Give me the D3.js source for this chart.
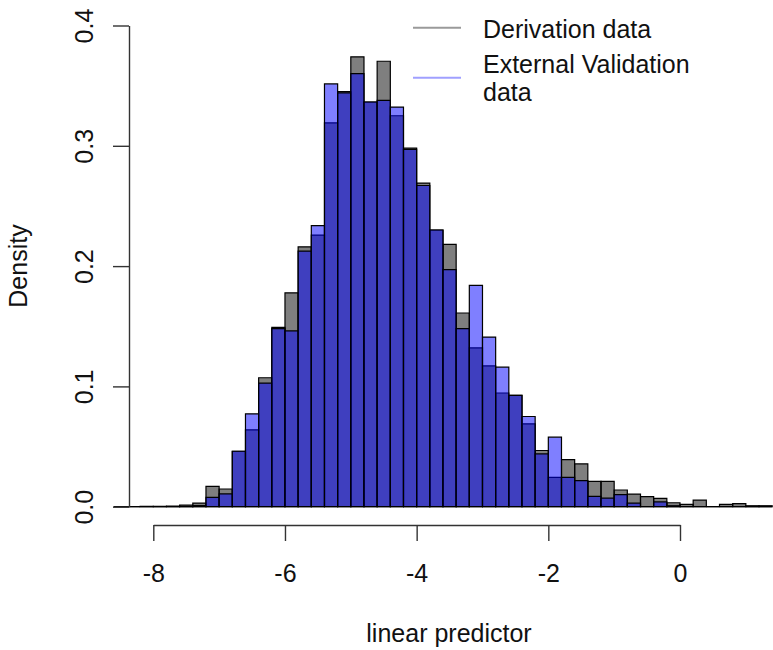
<!DOCTYPE html>
<meta charset="utf-8">
<script src="https://d3js.org/d3.v7.min.js"></script>
<style>
body { margin: 0; background: #fff; font-family: 'Liberation Sans', Arial, sans-serif; }
</style>
<svg width="773" height="650"></svg>
<script>
// histogram bin edges (width 0.2)
var binEdges = [-8.6, -8.4, -8.2, -8.0, -7.8, -7.6, -7.4, -7.2, -7.0, -6.8,
  -6.6, -6.4, -6.2, -6.0, -5.8, -5.6, -5.4, -5.2, -5.0, -4.8,
  -4.6, -4.4, -4.2, -4.0, -3.8, -3.6, -3.4, -3.2, -3.0, -2.8,
  -2.6, -2.4, -2.2, -2.0, -1.8, -1.6, -1.4, -1.2, -1.0, -0.8,
  -0.6, -0.4, -0.2, 0.0, 0.2, 0.4, 0.6, 0.8, 1.0, 1.2, 1.4];

// densities, one per bin
var derivation = [0, 0, 0.0003, 0.0003, 0.0005, 0.0014, 0.003, 0.0169, 0.0147, 0.0461,
  0.0639, 0.1072, 0.149, 0.1778, 0.216, 0.2258, 0.319, 0.345, 0.374, 0.3364,
  0.3703, 0.325, 0.298, 0.269, 0.23, 0.218, 0.161, 0.132, 0.117, 0.0945,
  0.0925, 0.0689, 0.0467, 0.0244, 0.0392, 0.0356, 0.0211, 0.0211, 0.0139, 0.0105,
  0.0083, 0.007, 0.0033, 0.002, 0.0055, 0, 0.002, 0.0025, 0.0008, 0.0008];

var validation = [0, 0, 0, 0, 0, 0.0005, 0.001, 0.0078, 0.0106, 0.0461,
  0.0772, 0.1028, 0.148, 0.1461, 0.2125, 0.2336, 0.3514, 0.344, 0.36, 0.3364,
  0.3378, 0.3322, 0.297, 0.267, 0.23, 0.197, 0.148, 0.184, 0.141, 0.116,
  0.0925, 0.075, 0.0439, 0.0578, 0.0244, 0.0217, 0.0086, 0.0072, 0.01, 0.003,
  0, 0.004, 0.0008, 0, 0, 0, 0, 0, 0, 0];

var xTicks = [-8, -6, -4, -2, 0];
var yTicks = [0, 0.1, 0.2, 0.3, 0.4];
var legendNames = [["Derivation data"], ["External Validation", "data"]];
var legendColors = ["#9a9a9a", "#a0a0ff"];

var svg = d3.select("svg");
var font = "'Liberation Sans', Arial, Helvetica, sans-serif";

var x = d3.scaleLinear().domain([-8, 0]).range([153.3, 680]);
var y = d3.scaleLinear().domain([0, 0.4]).range([506.7, 25.5]);

// paths instead of rects so empty bins still show as a line (like R)
function drawHist(values, fill) {
  svg.append("g").selectAll("path")
    .data(values)
    .enter().append("path")
    .attr("d", function(d, i) {
      var x0 = x(binEdges[i]), x1 = x(binEdges[i + 1]);
      return "M" + x0 + "," + y(0) + "H" + x1 + "V" + y(d) + "H" + x0 + "Z";
    })
    .attr("fill", fill)
    .attr("stroke", "#000")
    .attr("stroke-width", 1.2);
}

drawHist(derivation, "rgba(0,0,0,0.5)");
drawHist(validation, "rgba(0,0,255,0.5)");

// x axis
var gx = svg.append("g")
  .attr("transform", "translate(0,525)")
  .call(d3.axisBottom(x).tickValues(xTicks).tickSize(16).tickSizeOuter(0)
    .tickFormat(function(d) { return String(d); }));
gx.selectAll("text")
  .attr("y", 57).attr("dy", null)
  .attr("font-size", 25).attr("font-family", font).attr("fill", "#111");

// y axis
var gy = svg.append("g")
  .attr("transform", "translate(129,0)")
  .call(d3.axisLeft(y).tickValues(yTicks).tickSize(16).tickSizeOuter(0).tickFormat(d3.format(".1f")));
gy.selectAll("text")
  .attr("transform", "rotate(-90)")
  .attr("x", 0).attr("y", -36).attr("dy", null)
  .attr("text-anchor", "middle")
  .attr("font-size", 25).attr("font-family", font).attr("fill", "#111");

svg.selectAll(".domain, .tick line").attr("stroke", "#333").attr("stroke-width", 1.4);

// axis titles
svg.append("text")
  .attr("x", 449).attr("y", 642)
  .attr("text-anchor", "middle")
  .attr("font-size", 25).attr("font-family", font).attr("fill", "#111")
  .text("linear predictor");

svg.append("text")
  .attr("transform", "translate(27,266) rotate(-90)")
  .attr("text-anchor", "middle")
  .attr("font-size", 25).attr("font-family", font).attr("fill", "#111")
  .text("Density");

// legend
var legendLineY = [27.7, 77.7];
var legendTextY = [[38], [73, 101]];
var legend = svg.append("g");
legendNames.forEach(function(lines, i) {
  legend.append("line")
    .attr("x1", 413).attr("x2", 461)
    .attr("y1", legendLineY[i]).attr("y2", legendLineY[i])
    .attr("stroke", legendColors[i]).attr("stroke-width", 2);
  lines.forEach(function(t, j) {
    legend.append("text")
      .attr("x", 483).attr("y", legendTextY[i][j])
      .attr("font-size", 25).attr("font-family", font).attr("fill", "#111")
      .text(t);
  });
});
</script>
